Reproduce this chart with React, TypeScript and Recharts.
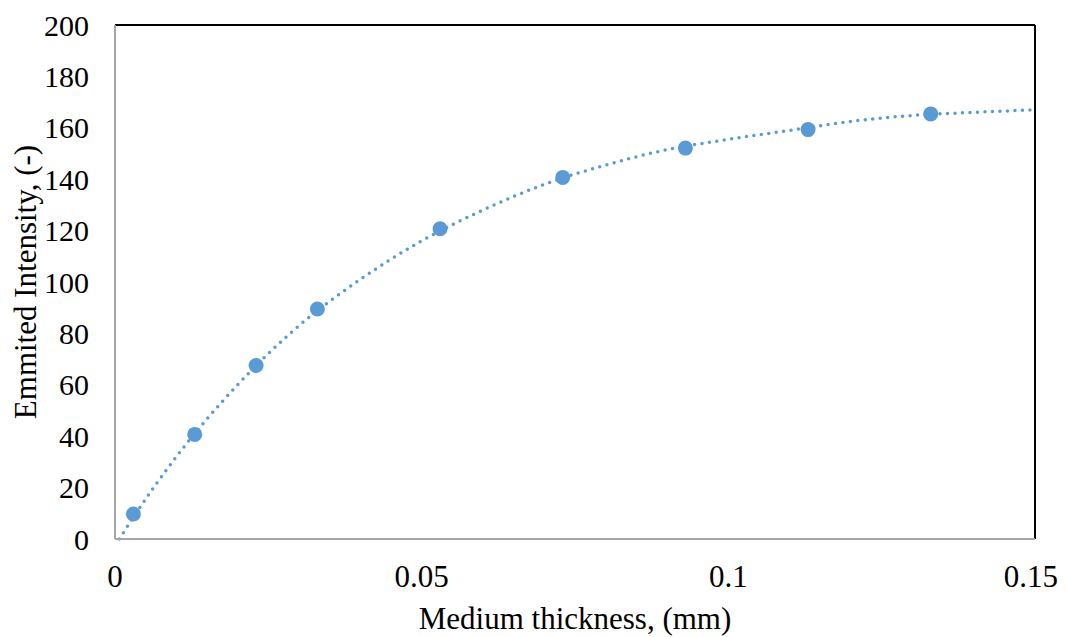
import { ComposedChart, Line, Scatter, XAxis, YAxis, ReferenceLine, Label } from 'recharts';

// measured points (mm, -)
const thickness = [0.003, 0.013, 0.023, 0.033, 0.053, 0.073, 0.093, 0.113, 0.133];
const intensity = [9.7, 40.7, 67.5, 89.5, 120.7, 140.7, 152.1, 159.3, 165.4];

// dotted trendline
const trendX = [0.0007, 0.003, 0.01, 0.02, 0.03, 0.04, 0.05, 0.06, 0.07, 0.08, 0.09, 0.1, 0.11, 0.12, 0.13, 0.14, 0.15];
const trendY = [0, 8.5, 32, 60, 83, 101, 116, 128, 138, 145.5, 151.5, 155.5, 159, 162.5, 164.8, 166, 167];

const xTicks = [0, 0.05, 0.1, 0.15];
const yTicks = [0, 20, 40, 60, 80, 100, 120, 140, 160, 180, 200];

const BLUE = '#5B9BD5';
const FONT = '"Liberation Serif", "Times New Roman", serif';

const points = thickness.map((x, i) => ({ x, y: intensity[i] }));
const trend = trendX.map((x, i) => ({ x, y: trendY[i] }));

const Dot = (p: any) => <circle cx={p.cx} cy={p.cy} r={7.5} fill={BLUE} />;

export default function App() {
  return (
    <ComposedChart width={1050} height={629} margin={{ top: 17, right: 23, bottom: 0, left: 0 }}>
      <XAxis
        dataKey="x"
        type="number"
        domain={[0, 0.15]}
        ticks={xTicks}
        allowDataOverflow
        height={98}
        axisLine={{ stroke: '#A6A6A6', strokeWidth: 2 }}
        tickLine={false}
        tickMargin={20}
        tick={{ fill: '#000', fontSize: 31, fontFamily: FONT }}
      >
        <Label
          value="Medium thickness, (mm)"
          position="insideBottom"
          offset={8}
          style={{ fill: '#000', fontSize: 31, fontFamily: FONT }}
        />
      </XAxis>
      <YAxis
        dataKey="y"
        type="number"
        domain={[0, 200]}
        ticks={yTicks}
        width={107}
        axisLine={{ stroke: '#A6A6A6', strokeWidth: 2 }}
        tickLine={false}
        tickMargin={20}
        tick={{ fill: '#000', fontSize: 30, fontFamily: FONT }}
      >
        <Label
          value="Emmited Intensity, (-)"
          angle={-90}
          position="insideLeft"
          offset={17}
          style={{ fill: '#000', fontSize: 31, fontFamily: FONT, textAnchor: 'middle' }}
        />
      </YAxis>
      <ReferenceLine y={200} stroke="#000" strokeWidth={2} />
      <ReferenceLine x={0.15} stroke="#000" strokeWidth={2} />
      <Line
        data={trend}
        dataKey="y"
        type="monotone"
        stroke={BLUE}
        strokeWidth={3.5}
        strokeDasharray="0 7.5"
        strokeLinecap="round"
        dot={false}
        activeDot={false}
        isAnimationActive={false}
      />
      <Scatter data={points} dataKey="y" shape={Dot} isAnimationActive={false} />
    </ComposedChart>
  );
}
